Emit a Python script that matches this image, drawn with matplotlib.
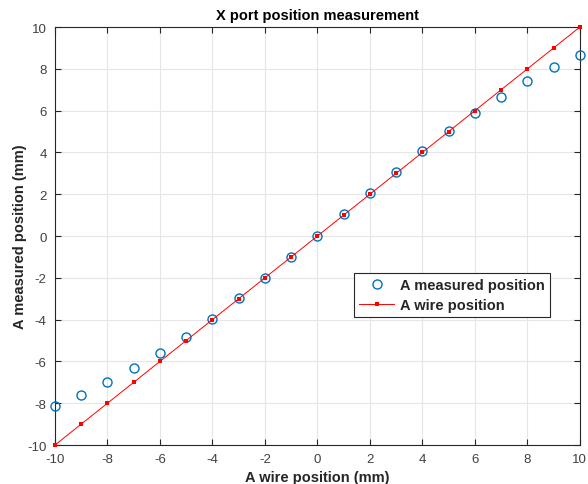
import numpy as np
import matplotlib
matplotlib.use('Agg')
import matplotlib.pyplot as plt

plt.rcParams['font.family'] = ['Liberation Sans', 'DejaVu Sans']
plt.rcParams['axes.unicode_minus'] = False

wire_pos = np.arange(-10, 11, 1)
measured = [-8.12, -7.62, -7.0, -6.33, -5.6, -4.83, -3.95, -2.98, -2.03,
            -1.0, 0.0, 1.04, 2.06, 3.06, 4.06, 5.02, 5.88, 6.67, 7.4, 8.07, 8.65]
wire_line = wire_pos.copy()
ticks = np.arange(-10, 11, 2)

fig = plt.figure(figsize=(5.88, 4.85), dpi=100)
ax = fig.add_axes([0.0935, 0.0804, 0.8925, 0.8616])

ax.plot(wire_pos, measured, 'o', markerfacecolor='none', markeredgecolor='#0072BD',
        markersize=6.5, markeredgewidth=1.0, label='A measured position',
        zorder=3, clip_on=False)
ax.plot(wire_pos, wire_line, '-', color='#FF0000', linewidth=0.7, marker='s',
        markersize=2.2, markeredgewidth=0, label='A wire position', zorder=4,
        clip_on=False)

ax.set_xlim(-10, 10)
ax.set_ylim(-10, 10)
ax.set_xticks(ticks)
ax.set_yticks(ticks)
ax.grid(True, color='#e6e6e6', linewidth=0.8)
ax.set_axisbelow(True)
ax.tick_params(direction='in', top=True, right=True, labelsize=9.5,
               color='#262626', labelcolor='#404040', length=4, width=0.8, pad=6)
for s in ax.spines.values():
    s.set_color('#262626')
    s.set_linewidth(0.8)

ax.set_xlabel('A wire position (mm)', fontsize=10.5, fontweight='bold', color='#262626', labelpad=3)
ax.set_ylabel('A measured position (mm)', fontsize=10.5, fontweight='bold', color='#262626', labelpad=0)
ax.set_title('X port position measurement', fontsize=10.5, fontweight='bold', color='#000000', pad=6)

leg = ax.legend(loc='upper left', bbox_to_anchor=(0.57, 0.4115),
                prop={'weight': 'bold', 'size': 10.5}, fancybox=False,
                framealpha=1, edgecolor='#262626', borderaxespad=0, handlelength=2.4,
                handletextpad=0.4, borderpad=0.35, labelspacing=0.4)
leg.get_frame().set_linewidth(0.8)
for t in leg.get_texts():
    t.set_color('#262626')

fig.savefig('out.png', dpi=100)
